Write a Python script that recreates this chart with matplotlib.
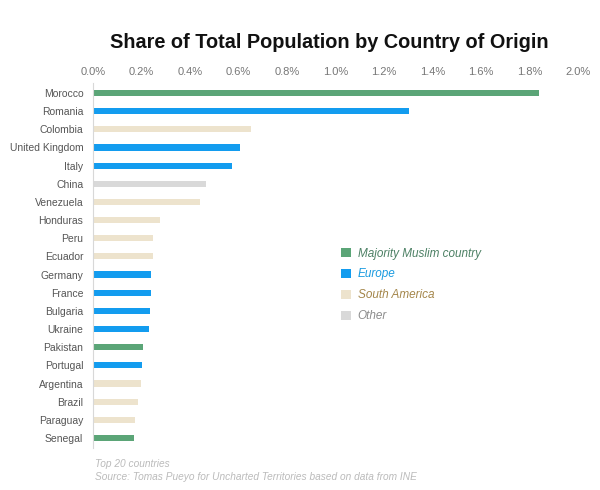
import matplotlib.pyplot as plt
from matplotlib.patches import Patch

countries = ["Morocco", "Romania", "Colombia", "United Kingdom", "Italy", "China",
             "Venezuela", "Honduras", "Peru", "Ecuador", "Germany", "France",
             "Bulgaria", "Ukraine", "Pakistan", "Portugal", "Argentina", "Brazil",
             "Paraguay", "Senegal"]
shares = [1.84, 1.305, 0.653, 0.608, 0.573, 0.465, 0.44, 0.276, 0.246, 0.247,
          0.240, 0.239, 0.236, 0.229, 0.206, 0.203, 0.199, 0.186, 0.173, 0.170]
groups = ["muslim", "europe", "south", "europe", "europe", "other", "south", "south",
          "south", "south", "europe", "europe", "europe", "europe", "muslim", "europe",
          "south", "south", "south", "muslim"]
x_ticks = [0.0, 0.2, 0.4, 0.6, 0.8, 1.0, 1.2, 1.4, 1.6, 1.8, 2.0]

group_names = ["muslim", "europe", "south", "other"]
group_labels = ["Majority Muslim country", "Europe", "South America", "Other"]
bar_colors = {"muslim": "#5ba577", "europe": "#139cef", "south": "#ede3cd", "other": "#d9d9d9"}
text_colors = {"muslim": "#4c8064", "europe": "#1a9be0", "south": "#a4864a", "other": "#8c8c8c"}

plt.rcParams['font.family'] = ['Liberation Sans', 'DejaVu Sans']

fig = plt.figure(figsize=(6, 4.9), dpi=100, facecolor='white')
ax = fig.add_axes([0.155, 0.0857, 0.808, 0.745])

ypos = list(range(len(countries)))
ax.barh(ypos, shares, height=0.34, color=[bar_colors[g] for g in groups])

ax.set_xlim(0, 2.0)
ax.set_ylim(len(countries) - 0.45, -0.55)
ax.xaxis.tick_top()
ax.set_xticks(x_ticks)
ax.set_xticklabels([f"{t:.1f}%" for t in x_ticks])
ax.set_yticks(ypos)
ax.set_yticklabels(countries)
ax.tick_params(axis='both', length=0, labelsize=7.5, labelcolor='#555555')
ax.tick_params(axis='x', pad=4, labelsize=8, labelcolor='#777777')
ax.tick_params(axis='y', pad=7)
for s in ['top', 'right', 'bottom']:
    ax.spines[s].set_visible(False)
ax.spines['left'].set_color('#d8d8d8')
ax.spines['left'].set_linewidth(0.8)

handles = [Patch(facecolor=bar_colors[g], edgecolor='none') for g in group_names]
leg = ax.legend(handles, group_labels, loc='upper left', bbox_to_anchor=(0.49, 0.578),
                frameon=False, prop={'style': 'italic', 'size': 8.5},
                handlelength=0.8, handleheight=0.8, handletextpad=0.6, labelspacing=0.75)
for txt, g in zip(leg.get_texts(), group_names):
    txt.set_color(text_colors[g])

fig.text(0.549, 0.914, "Share of Total Population by Country of Origin",
         ha='center', va='center', fontsize=14.3, fontweight='bold', color='#111111')
fig.text(0.158, 0.047, "Top 20 countries", fontsize=7.3, style='italic', color='#bbbbbb')
fig.text(0.158, 0.020, "Source: Tomas Pueyo for Uncharted Territories based on data from INE",
         fontsize=7.3, style='italic', color='#bbbbbb')

fig.savefig('out.png', dpi=100, facecolor='white')
